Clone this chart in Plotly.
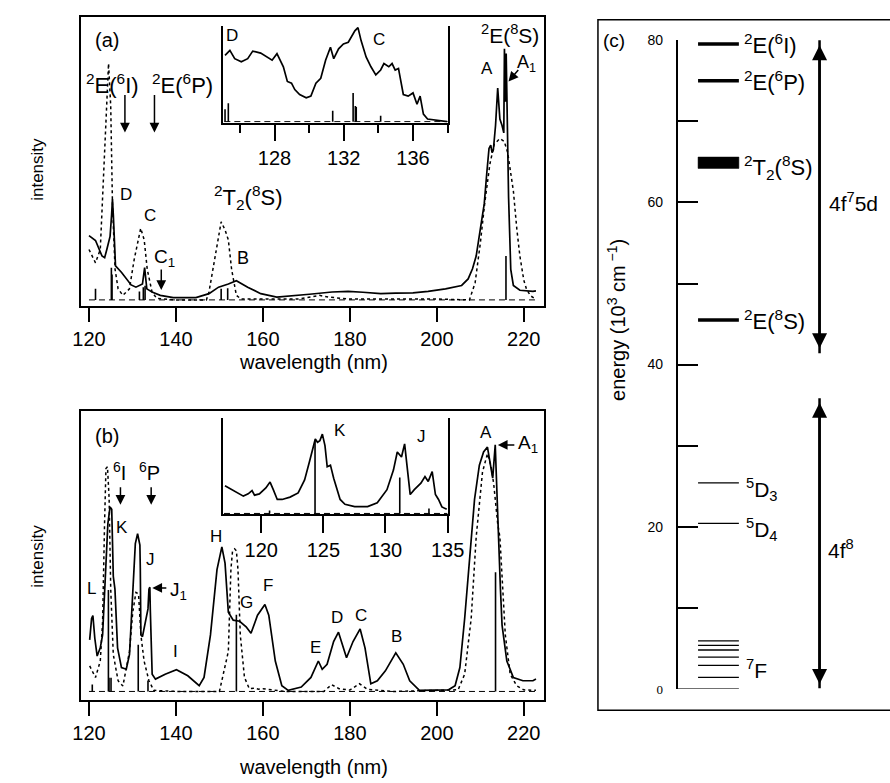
import plotly.graph_objects as go

W, H = 890, 783
def PX(x): return x / W
def PY(y): return 1 - y / H

# ---------------- panel (a) data ----------------
a_solid_x = [120.0,121.5,123.0,123.6,124.1,124.85,125.2,125.4,125.6,125.8,126.1,127.5,128.6,129.7,130.8,131.6,132.3,132.8,133.1,
             133.3,134.5,136.4,139.4,144.6,147.6,149.8,152.05,153.9,156.5,159.5,163.2,166.9,170.7,175.9,179.6,183.0,187.1,190.5,
             194.5,198.0,202.0,205.7,207.2,208.2,209.05,210.0,210.9,211.5,212.0,212.4,212.7,213.0,213.5,214.0,214.5,215.0,215.4,
             215.55,215.75,215.95,216.2,216.5,217.0,217.6,219.1,220.5,222.1,222.8]
a_solid_y = [0.227,0.21,0.155,0.149,0.178,0.224,0.30,0.356,0.30,0.224,0.12,0.097,0.075,0.053,0.045,0.05,0.056,0.114,0.07,
             0.039,0.028,0.016,0.008,0.008,0.022,0.045,0.056,0.068,0.045,0.022,0.010,0.014,0.02,0.028,0.03,0.027,0.022,0.024,
             0.025,0.03,0.039,0.051,0.074,0.11,0.155,0.25,0.339,0.45,0.535,0.547,0.52,0.53,0.616,0.748,0.639,0.616,0.59,
             0.887,0.70,0.87,0.60,0.362,0.108,0.051,0.034,0.032,0.03,0.032]
a_dot_x = [120.0,121.5,122.6,123.4,123.9,124.5,125.0,125.4,126.0,126.7,127.8,129.3,130.4,131.9,132.7,133.4,134.5,135.6,140.0,
           147.0,147.6,148.7,150.4,151.3,152.05,152.8,153.9,155.0,160.0,168.0,171.0,173.0,175.0,180.0,190.0,200.0,207.5,208.8,
           210.0,211.0,212.2,213.2,214.5,215.5,216.3,217.0,217.6,218.4,219.1,220.0,220.6,221.5,222.5]
a_dot_y = [0.178,0.131,0.178,0.454,0.685,0.835,0.685,0.339,0.108,0.039,0.016,0.039,0.143,0.253,0.212,0.108,0.028,0.005,0.0,
           0.0,0.028,0.131,0.276,0.247,0.212,0.108,0.016,0.003,0.003,0.003,0.01,0.016,0.01,0.003,0.003,0.003,0.0,0.06,
           0.2,0.34,0.48,0.55,0.57,0.56,0.52,0.45,0.385,0.25,0.155,0.07,0.039,0.015,0.005]
a_stick_x = [121.5,125.15,125.3,131.6,132.5,132.9,150.4,151.9,215.9]
a_stick_y = [0.039,0.114,0.09,0.03,0.045,0.05,0.039,0.041,0.155]

# inset (a)
ia_x = [125.14,125.42,125.7,126.08,126.45,126.74,127.2,127.58,127.86,128.14,128.33,128.51,128.74,128.98,129.17,129.45,
        129.83,130.1,130.39,130.67,130.95,131.23,131.42,131.7,131.98,132.26,132.64,132.82,133.0,133.29,133.57,133.85,
        134.13,134.32,134.6,134.79,134.97,135.16,135.44,135.72,136.0,136.23,136.41,136.6,136.84,137.5,137.97]
ia_y = [0.677,0.727,0.643,0.61,0.643,0.72,0.70,0.66,0.627,0.693,0.627,0.56,0.41,0.393,0.327,0.277,
        0.243,0.26,0.393,0.443,0.627,0.76,0.643,0.743,0.793,0.81,0.927,0.96,0.827,0.66,0.56,0.477,
        0.527,0.593,0.56,0.593,0.527,0.543,0.277,0.26,0.293,0.177,0.26,0.077,0.027,0.01,0.0]
ia_stick_x = [125.14,125.33,131.36,132.54,132.67,132.72,134.13]
ia_stick_y = [0.127,0.187,0.11,0.293,0.16,0.15,0.06]

# ---------------- panel (b) data ----------------
b_solid_x = [120.16,120.6,120.9,121.34,121.88,122.6,123.13,123.73,124.34,124.85,125.23,125.4,125.59,125.97,126.57,127.47,
             128.58,129.32,130.06,130.66,131.18,131.71,131.8,131.94,132.3,133.05,133.57,133.79,134.0,134.1,134.3,134.53,
             135.29,137.52,140.12,142.73,145.35,146.46,147.94,149.44,150.56,151.29,152.05,153.17,154.64,156.14,157.26,
             158.76,160.46,161.35,162.85,164.35,165.82,168.82,171.05,172.75,173.64,174.76,176.26,177.38,179.23,180.73,
             182.36,183.48,184.82,186.32,188.17,190.56,192.28,193.76,196.0,202.7,204.2,205.3,206.4,207.9,208.67,209.78,
             210.75,211.64,212.4,212.85,213.43,213.88,214.2,214.63,215.0,216.1,217.6,219.8,222.1,222.8]
b_solid_y = [0.188,0.266,0.277,0.194,0.129,0.159,0.206,0.396,0.611,0.673,0.664,0.55,0.42,0.373,0.159,0.087,
             0.081,0.135,0.349,0.539,0.575,0.534,0.45,0.206,0.2,0.254,0.301,0.373,0.38,0.3,0.194,0.063,
             0.045,0.063,0.079,0.057,0.021,0.051,0.206,0.444,0.527,0.468,0.289,0.26,0.256,0.236,0.212,
             0.278,0.317,0.278,0.111,0.021,0.004,0.016,0.051,0.111,0.081,0.099,0.182,0.216,0.123,0.182,
             0.228,0.159,0.028,0.039,0.075,0.141,0.099,0.039,0.004,0.006,0.021,0.087,0.266,0.563,0.70,0.825,
             0.873,0.891,0.813,0.778,0.899,0.73,0.56,0.373,0.242,0.111,0.051,0.039,0.039,0.045]
b_dot_x = [120.16,121.5,122.6,123.13,123.58,123.9,124.25,124.63,125.0,125.59,126.7,127.8,129.32,130.06,130.8,131.4,
           131.94,132.67,133.79,134.9,140.0,150.0,152.05,152.64,153.0,153.5,153.9,154.27,154.8,155.76,156.88,158.0,
           159.0,160.0,165.0,174.0,175.8,177.5,180.0,182.2,184.0,190.0,204.9,206.4,207.9,209.05,210.5,211.64,212.5,
           213.1,214.0,214.5,215.75,216.87,218.35,220.0,222.8]
b_dot_y = [0.093,0.051,0.111,0.254,0.611,0.813,0.819,0.706,0.373,0.135,0.039,0.02,0.146,0.289,0.361,0.355,
           0.206,0.111,0.039,0.004,0.0,0.0,0.146,0.444,0.51,0.52,0.513,0.444,0.206,0.051,0.01,0.012,
           0.008,0.01,0.0,0.0,0.025,0.01,0.005,0.028,0.008,0.0,0.006,0.063,0.266,0.563,0.8,0.867,0.82,
           0.754,0.611,0.563,0.206,0.063,0.021,0.006,0.004]
b_stick_x = [120.76,124.47,124.6,125.07,131.33,133.57,153.9,213.5]
b_stick_y = [0.025,0.37,0.05,0.05,0.17,0.04,0.28,0.435]

# inset (b)
ib_x = [117.08,117.65,118.17,118.56,118.95,119.26,119.46,119.85,120.37,120.71,120.97,121.29,121.68,122.32,122.97,
        123.49,123.88,124.19,124.35,124.53,124.72,124.92,125.13,125.31,125.57,125.83,126.09,126.35,126.74,127.52,
        128.56,129.34,130.12,130.64,130.95,131.29,131.54,131.75,131.99,132.32,132.85,133.18,133.44,133.76,134.02,
        134.27,134.54,134.93]
ib_y = [0.283,0.243,0.21,0.177,0.2,0.233,0.187,0.2,0.26,0.32,0.243,0.143,0.143,0.167,0.21,
        0.343,0.527,0.693,0.76,0.727,0.743,0.81,0.693,0.477,0.493,0.36,0.26,0.143,0.093,0.07,
        0.07,0.11,0.243,0.443,0.627,0.577,0.71,0.46,0.193,0.243,0.31,0.377,0.327,0.427,0.193,
        0.143,0.067,0.043]
ib_stick_x = [120.67,124.33,131.15,133.5]
ib_stick_y = [0.03,0.743,0.367,0.05]

# ---------------- panel (c) data ----------------
wl_ticks = [120, 140, 160, 180, 200, 220]
energy_ticks = [0, 10, 20, 30, 40, 50, 60, 70, 80]
energy_ticktext = ['<span style="font-family:Liberation Serif;font-size:13px">0</span>', '', '20', '', '40', '', '60', '', '80']
thick_levels = [79.55, 75.0, 45.5]
thick_labels = ['<sup>2</sup>E(<sup>6</sup>I)', '<sup>2</sup>E(<sup>6</sup>P)', '<sup>2</sup>E(<sup>8</sup>S)']
t2_band = [64.2, 65.6]
t2_label = '<sup>2</sup>T<sub>2</sub>(<sup>8</sup>S)'
thin_levels = [25.4, 20.4]
thin_labels = ['<sup>5</sup>D<sub>3</sub>', '<sup>5</sup>D<sub>4</sub>']
f7_levels = [5.92, 5.35, 4.79, 3.9, 2.9, 1.41, 0.0]
config_arrows = [(79.4, 42.0), (35.3, 0.6)]

FONT = "Liberation Sans, Arial, sans-serif"
E_PX = (695 - 33) / 80.0  # pixels per energy unit

def sticks(xs, ys):
    X, Y = [], []
    for x, y in zip(xs, ys):
        X += [x, x, None]
        Y += [0, y, None]
    return X, Y

fig = go.Figure()

def add_panel(sx, sy, dx, dy, stx, sty, xa, ya, x0, x1):
    fig.add_trace(go.Scatter(x=[x0, x1], y=[0, 0], mode='lines', xaxis=xa, yaxis=ya,
                             line=dict(color='black', width=1, dash='6px,4px'), showlegend=False))
    X, Y = sticks(stx, sty)
    fig.add_trace(go.Scatter(x=X, y=Y, mode='lines', xaxis=xa, yaxis=ya,
                             line=dict(color='black', width=1.6), showlegend=False))
    if dx is not None:
        fig.add_trace(go.Scatter(x=dx, y=dy, mode='lines', xaxis=xa, yaxis=ya,
                                 line=dict(color='black', width=1.5, dash='dot'), showlegend=False))
    fig.add_trace(go.Scatter(x=sx, y=sy, mode='lines', xaxis=xa, yaxis=ya,
                             line=dict(color='black', width=1.7), showlegend=False))

add_panel(a_solid_x, a_solid_y, a_dot_x, a_dot_y, a_stick_x, a_stick_y, 'x', 'y', 120.0, 223.0)
add_panel(b_solid_x, b_solid_y, b_dot_x, b_dot_y, b_stick_x, b_stick_y, 'x2', 'y2', 120.0, 223.0)
add_panel(ia_x, ia_y, None, None, ia_stick_x, ia_stick_y, 'x3', 'y3', 125.1, 138.0)
add_panel(ib_x, ib_y, None, None, ib_stick_x, ib_stick_y, 'x5', 'y5', 117.0, 135.0)

fig.add_trace(go.Scatter(x=[0.5], y=[0], mode='markers', marker=dict(opacity=0), xaxis='x4', yaxis='y4',
                         showlegend=False, hoverinfo='skip'))

TICKF = dict(size=20, family=FONT, color='black')
main_x = dict(range=[118.14, 224.76], domain=[PX(75), PX(552)], showline=True, mirror=True, linewidth=2,
              linecolor='black', ticks='outside', ticklen=14, tickwidth=2, tickcolor='black',
              tickvals=wl_ticks, showgrid=False, zeroline=False, tickfont=TICKF)
main_y = dict(showline=True, mirror=True, linewidth=2, linecolor='black', ticks='', showticklabels=False,
              showgrid=False, zeroline=False)

fig.update_layout(
    width=W, height=H, margin=dict(l=0, r=0, t=0, b=0),
    paper_bgcolor='white', plot_bgcolor='rgba(0,0,0,0)',
    font=dict(family=FONT, color='black', size=16),
    xaxis=dict(main_x, anchor='y'),
    yaxis=dict(main_y, anchor='x', domain=[PY(304), PY(9)], range=[-0.0208, 1.0]),
    xaxis2=dict(main_x, anchor='y2'),
    yaxis2=dict(main_y, anchor='x2', domain=[PY(706), PY(411)], range=[-0.0296, 1.024]),
    xaxis3=dict(anchor='y3', domain=[PX(221.7), PX(452.7)], range=[125.05, 138.02], showline=True, linewidth=2,
                linecolor='black', ticks='outside', ticklen=16, tickwidth=2, tickcolor='black',
                tick0=128, dtick=4, showgrid=False, zeroline=False,
                minor=dict(ticks='outside', ticklen=8, tickwidth=2, tickcolor='black', tick0=126, dtick=2),
                tickfont=TICKF),
    yaxis3=dict(anchor='x3', domain=[PY(117), PY(18)], range=[-0.01, 0.98], showline=True, mirror=True,
                linewidth=2, linecolor='black', ticks='', showticklabels=False, showgrid=False, zeroline=False),
    xaxis5=dict(anchor='y5', domain=[PX(221.7), PX(452.3)], range=[116.96, 135.0], showline=True, linewidth=2,
                linecolor='black', ticks='outside', ticklen=17, tickwidth=2, tickcolor='black',
                tickvals=[120, 125, 130, 135], showgrid=False, zeroline=False, tickfont=TICKF),
    yaxis5=dict(anchor='x5', domain=[PY(516.7), PY(418.3)], range=[-0.007, 0.977], showline=True, mirror=True,
                linewidth=2, linecolor='black', ticks='', showticklabels=False, showgrid=False, zeroline=False),
    xaxis4=dict(anchor='y4', domain=[PX(689), PX(752)], range=[0, 1], visible=False),
    yaxis4=dict(anchor='x4', domain=[PY(695), PY(33)], range=[0, 80], showline=True, linewidth=1.5,
                linecolor='black', ticks='inside', ticklen=21, tickwidth=1.5, tickcolor='black',
                tickvals=energy_ticks, ticktext=energy_ticktext, ticklabelstandoff=10,
                showgrid=False, zeroline=False, tickfont=dict(size=14, family=FONT, color='black')),
)

shapes = []
shapes.append(dict(type='rect', xref='paper', yref='paper', x0=PX(607), x1=1.05, y0=PY(717), y1=PY(12),
                   line=dict(color='black', width=1.5)))
for e in thick_levels:
    shapes.append(dict(type='line', xref='paper', yref='y4', x0=PX(710), x1=PX(752), y0=e, y1=e,
                       line=dict(color='black', width=3.5)))
shapes.append(dict(type='rect', xref='paper', yref='y4', x0=PX(710), x1=PX(752), y0=t2_band[0], y1=t2_band[1],
                   line=dict(color='black', width=0.5), fillcolor='black'))
for e in thin_levels:
    shapes.append(dict(type='line', xref='paper', yref='y4', x0=PX(710), x1=PX(752), y0=e, y1=e,
                       line=dict(color='black', width=1.3)))
for e in f7_levels:
    shapes.append(dict(type='line', xref='paper', yref='y4', x0=PX(710) if e > 0 else PX(689), x1=PX(752),
                       y0=e, y1=e, line=dict(color='black', width=1.3)))
fig.update_layout(shapes=shapes)

ann = []
def T(text, x, y, size=17, xanchor='center', angle=0):
    ann.append(dict(text=text, x=PX(x), y=PY(y), xref='paper', yref='paper', showarrow=False,
                    xanchor=xanchor, yanchor='middle', textangle=angle,
                    font=dict(size=size, family=FONT, color='black')))

def ARR(xt, yt, xs, ys, width=1.5, size=1.3):
    ann.append(dict(text='', x=PX(xt), y=PY(yt), xref='paper', yref='paper', ax=xs - xt, ay=ys - yt,
                    axref='pixel', ayref='pixel', showarrow=True, arrowhead=2, arrowsize=size,
                    arrowwidth=width, arrowcolor='black'))

# panel a texts
T('(a)', 102, 33, 20)
T('<sup>2</sup>E(<sup>6</sup>I)', 108, 78, 22)
T('<sup>2</sup>E(<sup>6</sup>P)', 180, 78, 22)
ARR(120.3, 127, 120.3, 88)
ARR(150.7, 127, 150.7, 88)
T('D', 121, 190)
T('C', 146, 212)
T('C<sub>1</sub>', 148, 255, 19, xanchor='left')
ARR(157.7, 288, 157.7, 266)
T('<sup>2</sup>T<sub>2</sub>(<sup>8</sup>S)', 247, 193, 22)
T('B', 242, 255, 18)
T('<sup>2</sup>E(<sup>8</sup>S)', 517, 27, 21)
T('A', 493, 62)
T('A<sub>1</sub>', 522, 57, 18, xanchor='left')
ARR(515, 75, 526, 62)
T('D', 230, 28)
T('C', 382, 32)
T('wavelength (nm)', 314, 361, 20)
T('intensity', 30, 165, 17, angle=-90)

# panel b texts
T('(b)', 102, 437, 20)
T('<sup>6</sup>I', 115, 473, 20)
T('<sup>6</sup>P', 146, 473, 20)
ARR(115.7, 507, 115.7, 488)
ARR(147.3, 507, 147.3, 488)
T('K', 117, 530)
T('J', 147, 563)
T('L', 86, 593)
T('J<sub>1</sub>', 165, 595, 19, xanchor='left')
ARR(148.5, 592, 164, 592)
T('H', 214, 540)
T('G', 245, 607)
T('F', 268, 590)
T('I', 172, 657)
T('E', 316, 653)
T('D', 339, 622)
T('C', 363, 620)
T('B', 400, 642)
T('A', 492, 433)
T('A<sub>1</sub>', 523, 445, 19, xanchor='left')
ARR(504, 446, 522, 446)
T('K', 342, 431)
T('J', 425, 437)
T('wavelength (nm)', 314, 775, 20)
T('intensity', 30, 560, 17, angle=-90)

# panel c texts
T('(c)', 623, 33, 19)
T('energy (10<sup>3</sup> cm<sup> \u22121</sup>)', 626, 318, 20, angle=-90)
def TL(text, e, x, size=22):
    ann.append(dict(text=text, x=PX(x), y=e, xref='paper', yref='y4', showarrow=False, xanchor='left',
                    yanchor='middle', font=dict(size=size, family=FONT, color='black')))
for e, lab in zip(thick_levels, thick_labels):
    TL(lab, e, 755)
TL(t2_label, sum(t2_band) / 2 - 0.6, 755)
for e, lab in zip(thin_levels, thin_labels):
    TL(lab, e - 0.8, 757, 21)
TL('<sup>7</sup>F', 2.4, 757, 21)
TL('4f<sup>7</sup>5d', 60, 843, 21)
TL('4f<sup>8</sup>', 17.3, 842, 21)
for top, bot in config_arrows:
    for tip, tail in [(top, bot), (bot, top)]:
        ann.append(dict(text='', x=PX(835), y=tip, xref='paper', yref='y4', ax=0, ay=(tip - tail) * E_PX,
                        axref='pixel', ayref='pixel', showarrow=True, arrowhead=2, arrowsize=1.2,
                        arrowwidth=2.5, arrowcolor='black'))

fig.update_layout(annotations=ann)
fig.write_html("out.html")
